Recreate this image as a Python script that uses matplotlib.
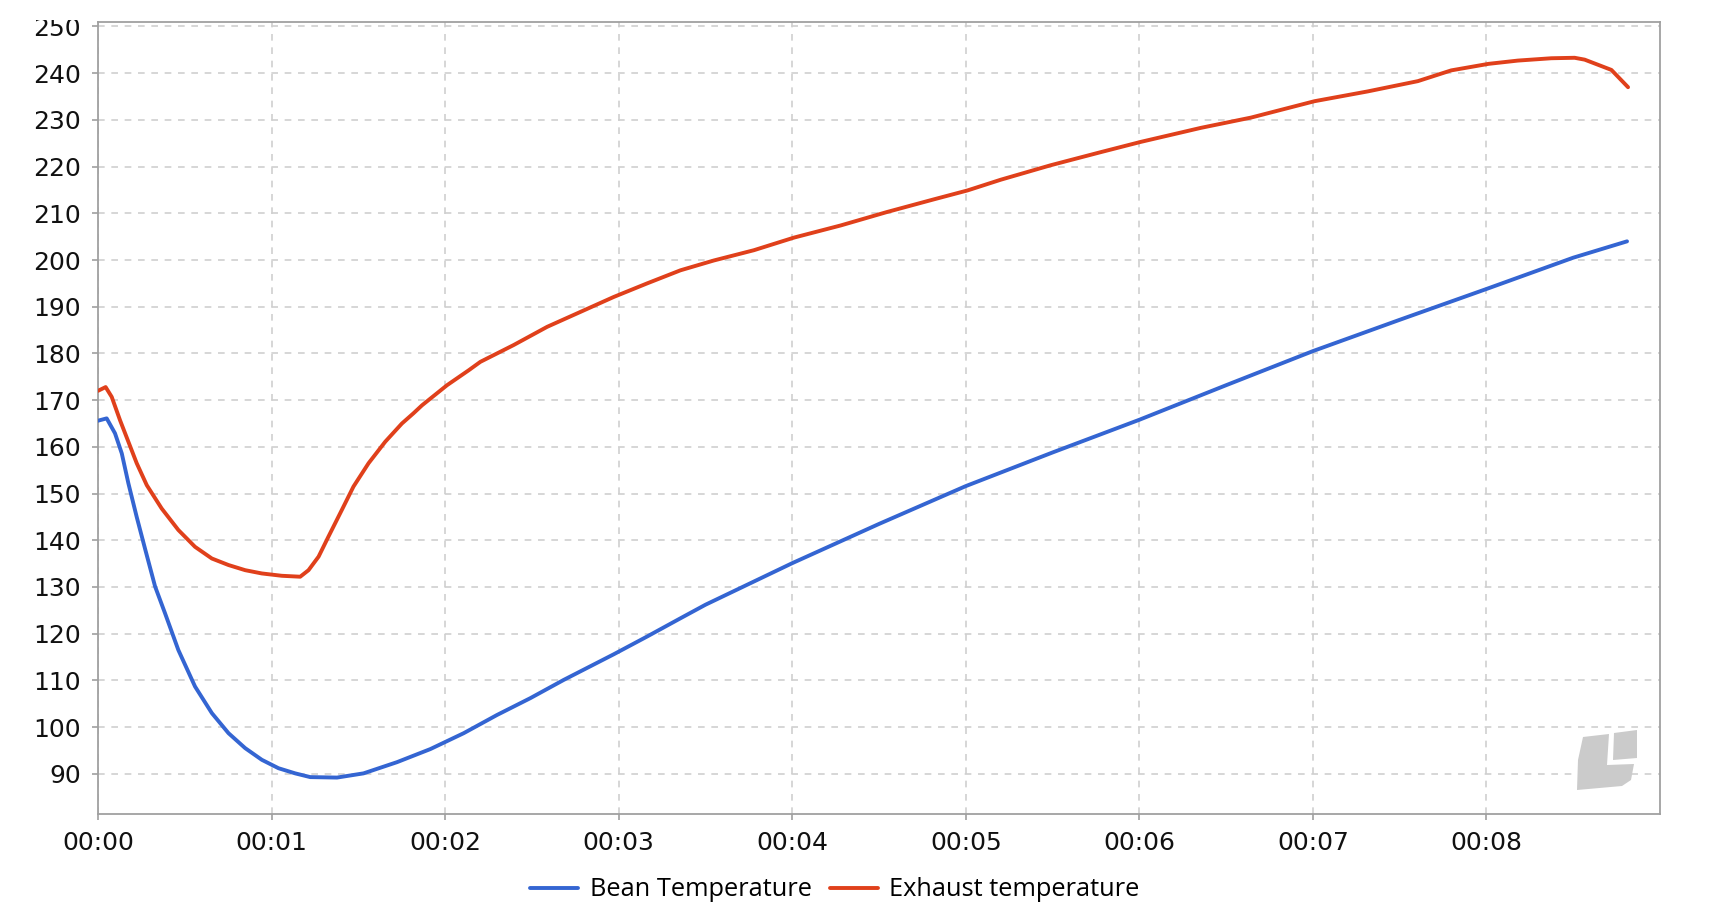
import matplotlib
matplotlib.use('Agg')
import matplotlib.pyplot as plt
from matplotlib.patches import Polygon, Rectangle

# roast time in minutes and temperatures
bean_t = [0, 0.05, 0.098, 0.137, 0.175, 0.223, 0.271, 0.329, 0.386, 0.463,
          0.559, 0.656, 0.752, 0.848, 0.944, 1.04, 1.136, 1.223, 1.377, 1.53,
          1.723, 1.915, 2.107, 2.299, 2.491, 2.683, 2.972, 3.164, 3.356, 3.5,
          4.0, 4.5, 5.0, 5.5, 6.0, 6.5, 7.0, 7.5, 8.0, 8.5, 8.81]
bean = [165.6, 166.1, 162.9, 158.6, 152.2, 145, 138.2, 130.1, 124.4, 116.5,
        108.7, 103.0, 98.7, 95.5, 93.0, 91.2, 90.1, 89.3, 89.2, 90.1, 92.5,
        95.3, 98.7, 102.6, 106.2, 110.1, 115.6, 119.4, 123.3, 126.2, 135.1,
        143.5, 151.6, 158.8, 165.8, 173.2, 180.5, 187.2, 193.8, 200.5, 204.0]

exh_t = [0, 0.044, 0.079, 0.127, 0.175, 0.223, 0.281, 0.367, 0.463, 0.559,
         0.656, 0.752, 0.848, 0.944, 1.059, 1.165, 1.213, 1.271, 1.328, 1.405,
         1.472, 1.559, 1.655, 1.751, 1.818, 1.867, 2.011, 2.136, 2.203, 2.395,
         2.588, 2.78, 2.972, 3.164, 3.356, 3.548, 3.779, 4.01, 4.279, 4.548,
         4.817, 5.01, 5.202, 5.49, 5.778, 6.009, 6.24, 6.355, 6.644, 7.009,
         7.316, 7.605, 7.797, 8.012, 8.181, 8.374, 8.508, 8.566, 8.72, 8.816]
exh = [172.0, 172.8, 170.7, 165.7, 161.1, 156.5, 151.8, 146.8, 142.2, 138.6,
       136.1, 134.7, 133.6, 132.9, 132.4, 132.2, 133.6, 136.5, 140.8, 146.5,
       151.5, 156.5, 161.1, 165.0, 167.2, 168.9, 173.2, 176.4, 178.2, 181.8,
       185.7, 188.9, 192.1, 195.0, 197.8, 199.9, 202.1, 204.8, 207.4, 210.3,
       213.0, 214.9, 217.2, 220.3, 223.1, 225.3, 227.3, 228.3, 230.5, 234.0,
       236.1, 238.3, 240.6, 242.0, 242.7, 243.2, 243.3, 242.9, 240.7, 237.0]

minute_ticks = list(range(0, 9))
minute_labels = ['00:%02d' % m for m in minute_ticks]
temp_ticks = list(range(90, 251, 10))

W, H = 1732, 914
fig = plt.figure(figsize=(W / 100, H / 100), dpi=100)
ax = fig.add_axes([98 / W, 1 - 814 / H, (1660 - 98) / W, (814 - 22) / H])

ax.plot(bean_t, bean, color='#3465d2', lw=2.8, label='Bean Temperature',
        solid_joinstyle='round', solid_capstyle='round', zorder=3)
ax.plot(exh_t, exh, color='#e0401b', lw=2.8, label='Exhaust temperature',
        solid_joinstyle='round', solid_capstyle='round', zorder=3)

ax.set_xlim(0, 9.0)
ax.set_ylim(81.4, 250.96)
ax.set_xticks(minute_ticks)
ax.set_xticklabels(minute_labels)
ax.set_yticks(temp_ticks)

ax.grid(True, color='#cfcfcf', linestyle=(0, (4, 4)), linewidth=1.2)
for s in ax.spines.values():
    s.set_color('#a0a0a0')
    s.set_linewidth(1.3)
ax.tick_params(colors='#a0a0a0', labelcolor='#111111', labelsize=18,
               length=4.5, width=1.2, pad=8)
for lab in ax.get_xticklabels() + ax.get_yticklabels():
    lab.set_family('DejaVu Sans')

leg = fig.legend(loc='center', bbox_to_anchor=(835 / W, 1 - 890 / H), ncol=2,
                 frameon=False, handlelength=1.9, handletextpad=0.45,
                 columnspacing=0.7, prop={'family': 'Open Sans', 'size': 18.3})
for line in leg.get_lines():
    line.set_linewidth(2.8)


def px(pts):
    return [(x / W, 1 - y / H) for x, y in pts]


# watermark logo in the lower right corner
logo_big = [(1583, 737), (1609, 734), (1607, 765), (1634, 764), (1631, 780),
            (1622, 786), (1577, 790), (1578, 760)]
logo_small = [(1614, 733), (1637, 730), (1637, 758), (1613, 760)]
for shape in (logo_big, logo_small):
    fig.add_artist(Polygon(px(shape), closed=True, facecolor='#cbcbcb',
                           edgecolor='none', transform=fig.transFigure,
                           zorder=5))

# the original image is cut just above the plot frame
fig.add_artist(Rectangle((0, 1 - 20 / H), 1, 20 / H, facecolor='white',
                         edgecolor='none', transform=fig.transFigure,
                         zorder=10))

fig.savefig('out.png', dpi=100, facecolor='white')
